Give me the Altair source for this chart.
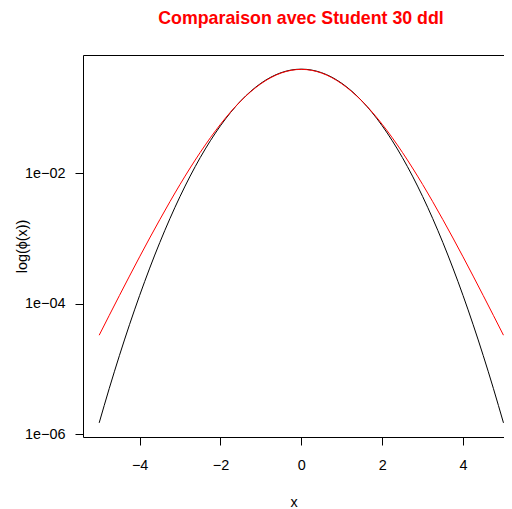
import altair as alt
import pandas as pd

x_vals = [-5.0, -4.75, -4.5, -4.25, -4.0, -3.75, -3.5, -3.25, -3.0, -2.75, -2.5, -2.25, -2.0,
          -1.75, -1.5, -1.25, -1.0, -0.75, -0.5, -0.25, 0.0, 0.25, 0.5, 0.75, 1.0, 1.25, 1.5,
          1.75, 2.0, 2.25, 2.5, 2.75, 3.0, 3.25, 3.5, 3.75, 4.0, 4.25, 4.5, 4.75, 5.0]

normal_vals = [1.4867e-6, 5.0290e-6, 1.5984e-5, 4.7718e-5, 1.3383e-4, 3.5260e-4, 8.7268e-4,
               2.0290e-3, 4.4318e-3, 9.0936e-3, 1.7528e-2, 3.1740e-2, 5.3991e-2, 8.6277e-2,
               0.129518, 0.182649, 0.241971, 0.301137, 0.352065, 0.386668, 0.398942,
               0.386668, 0.352065, 0.301137, 0.241971, 0.182649, 0.129518, 8.6277e-2,
               5.3991e-2, 3.1740e-2, 1.7528e-2, 9.0936e-3, 4.4318e-3, 2.0290e-3, 8.7268e-4,
               3.5260e-4, 1.3383e-4, 4.7718e-5, 1.5984e-5, 5.0290e-6, 1.4867e-6]

student_vals = [3.290e-5, 6.643e-5, 1.3341e-4, 2.6598e-4, 5.2500e-4, 1.0223e-3, 1.9572e-3,
                3.6865e-3, 6.7800e-3, 1.2134e-2, 2.1058e-2, 3.5279e-2, 5.6850e-2, 8.7688e-2,
                0.128958, 0.180093, 0.237995, 0.296650, 0.347878, 0.383071, 0.395630,
                0.383071, 0.347878, 0.296650, 0.237995, 0.180093, 0.128958, 8.7688e-2,
                5.6850e-2, 3.5279e-2, 2.1058e-2, 1.2134e-2, 6.7800e-3, 3.6865e-3, 1.9572e-3,
                1.0223e-3, 5.2500e-4, 2.6598e-4, 1.3341e-4, 6.643e-5, 3.290e-5]

x_ticks = [-4, -2, 0, 2, 4]
y_ticks = [1e-6, 1e-4, 1e-2]
main_title = "Comparaison avec Student 30 ddl"

df = pd.concat([
    pd.DataFrame({"x": x_vals, "y": normal_vals, "serie": "Normale"}),
    pd.DataFrame({"x": x_vals, "y": student_vals, "serie": "Student"}),
])

FONT = "Liberation Sans"
FS = 14.4

x_scale = alt.Scale(domain=[-5.4, 5.013], nice=False, zero=False)
y_scale = alt.Scale(type="log", domain=[10 ** -6.045, 10 ** -0.182], nice=False)

x_enc = alt.X("x:Q", scale=x_scale,
              axis=alt.Axis(values=x_ticks, title="x", domain=True, domainColor="black",
                            domainWidth=1, grid=False,
                            tickSize=8, tickColor="black", labelPadding=13,
                            labelFontSize=FS, labelFont=FONT, labelColor="black",
                            titleFont=FONT, titleFontSize=FS, titleFontWeight="normal",
                            titleColor="black", titleBaseline="alphabetic", titleY=69.5))
y_enc = alt.Y("y:Q", scale=y_scale,
              axis=alt.Axis(values=y_ticks, title="log(ϕ(x))", domain=True, domainColor="black",
                            domainWidth=1, grid=False,
                            tickSize=8, tickColor="black", labelPadding=10,
                            labelExpr="datum.value < 1e-5 ? '1e−06' : (datum.value < 1e-3 ? '1e−04' : '1e−02')",
                            labelFontSize=FS, labelFont=FONT, labelColor="black",
                            titleFont=FONT, titleFontSize=FS, titleFontWeight="normal",
                            titleColor="black", titleBaseline="bottom", titleX=-54))

base = alt.Chart(df)

lines = base.mark_line(strokeWidth=1, interpolate="monotone").encode(
    x=x_enc,
    y=y_enc,
    color=alt.Color("serie:N", scale=alt.Scale(domain=["Normale", "Student"], range=["black", "#FF0000"]),
                    legend=None),
    detail="serie:N",
)

top_frame = base.mark_line(opacity=0).encode(
    x=alt.X("x:Q", scale=x_scale,
            axis=alt.Axis(orient="top", labels=False, ticks=False, title=None, grid=False,
                          domain=True, domainColor="black", domainWidth=1)),
    y=y_enc,
    detail="serie:N",
)

title_mark = alt.Chart(pd.DataFrame({"t": [main_title]})).mark_text(
    font=FONT, fontSize=17.8, fontWeight="bold", color="#FF0000",
    align="center", baseline="alphabetic",
).encode(text="t:N", x=alt.value(218), y=alt.value(-31.5))

chart = alt.layer(lines, top_frame, title_mark).resolve_axis(x="independent").properties(
    width=421,
    height=382,
    autosize=alt.AutoSizeParams(type="none"),
    padding={"left": 75, "top": 47, "right": 0, "bottom": 72},
).configure_view(stroke=None)

chart.save("out.html", embed_options={"renderer": "svg", "actions": False})
